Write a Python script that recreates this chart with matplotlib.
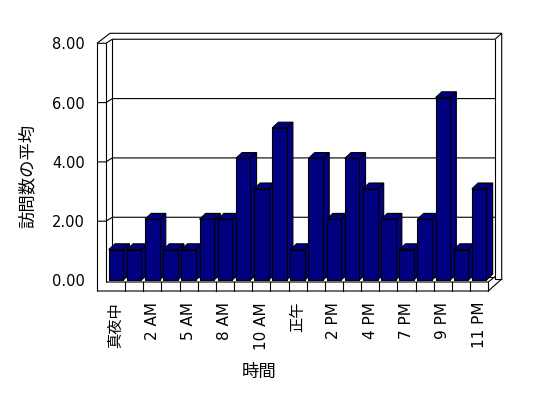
import matplotlib
matplotlib.use('Agg')
import matplotlib.pyplot as plt
from matplotlib.patches import Polygon

# ---- data ----
hours = ['真夜中', '1 AM', '2 AM', '4 AM', '5 AM', '7 AM', '8 AM', '9 AM', '10 AM', '11 AM',
         '正午', '1 PM', '2 PM', '3 PM', '4 PM', '6 PM', '7 PM', '8 PM', '9 PM', '10 PM', '11 PM']
visits = [1, 1, 2, 1, 1, 2, 2, 4, 3, 5, 1, 4, 2, 4, 3, 2, 1, 2, 6, 1, 3]
y_ticks = [0, 2, 4, 6, 8]
y_tick_labels = ['0.00', '2.00', '4.00', '6.00', '8.00']
x_title = '時間'
y_title = '訪問数の平均'

plt.rcParams['font.family'] = ['DejaVu Sans', 'Noto Sans CJK JP']

W, H = 548, 398
fig = plt.figure(figsize=(W / 100, H / 100), dpi=100)
fig.patch.set_facecolor('white')

# layout (pixels)
AX_L, AX_R, AX_T, AX_B = 97, 502, 30, 291
CAT0_PX, CAT_PX = 116, 18.16
ZERO_PX, UNIT_PX = 280, 30.4

ax = fig.add_axes([AX_L / W, 1 - AX_B / H, (AX_R - AX_L) / W, (AX_B - AX_T) / H])


def X(px):
    return (px - CAT0_PX) / CAT_PX


def Y(py):
    return (ZERO_PX - py) / UNIT_PX


ax.set_xlim(X(AX_L), X(AX_R))
ax.set_ylim(Y(AX_B), Y(AX_T))
for s in ax.spines.values():
    s.set_visible(False)
ax.set_facecolor('none')

NAVY = '#000080'
LW = 0.8


# projection of value-axis values onto front (left wall edge) and back wall
def v_front(t):
    return Y(280.5 - 29.65 * t)


def v_back(t):
    return Y(276.6 - 29.67 * t)


def line(pts, z=1):
    xs = [X(p[0]) for p in pts]
    ys = [Y(p[1]) for p in pts]
    ax.plot(xs, ys, color='black', lw=LW, zorder=z, clip_on=False, solid_capstyle='butt')


# walls
FL, FI, BL = 97, 106, 112.3      # left wall front, inner, back-wall left
BR_IN, BR_OUT = 495, 501.7        # back wall right edges
TOP_OUT = 33.3
FLOOR_TOP, FLOOR_BOT, FLOOR_R = 282, 291, 488.3
back0 = 276.6

line([(FL, FLOOR_BOT), (FL, 43.3)])
line([(FI, FLOOR_TOP), (FI, 43.3)])
line([(FL, 43.3), (110, TOP_OUT), (BR_OUT, TOP_OUT), (BR_OUT, 279)])
line([(BL, back0), (BL, 39.3)])
line([(BR_IN, 39.3), (BR_OUT, TOP_OUT)])
line([(BR_IN, 39.3), (BR_IN, 279), (BR_OUT, 279)])
line([(BL, back0), (BR_IN, back0)])

# gridlines: front tick on left wall + diagonal + back wall line
for t in y_ticks[1:]:
    yf = ZERO_PX - v_front(t) * UNIT_PX
    yb = ZERO_PX - v_back(t) * UNIT_PX
    line([(FL, yf), (FI, yf), (BL, yb), (BR_IN, yb)])

# floor front face
line([(FL, FLOOR_BOT), (FLOOR_R, FLOOR_BOT), (BR_OUT, 279)], z=10)
line([(FI, FLOOR_TOP), (FLOOR_R, FLOOR_TOP), (BR_IN, back0)], z=10)
for i in range(len(visits)):
    xb = i + 0.5
    ax.plot([xb, xb], [Y(FLOOR_TOP), Y(FLOOR_BOT)], color='black', lw=LW, zorder=10, clip_on=False)

# bars
xs = list(range(len(visits)))
BW = 0.8
DX = 6.2 / CAT_PX
DY = 5.8 / UNIT_PX
bars = ax.bar(xs, visits, width=BW, color=NAVY, edgecolor='black', linewidth=LW)
for i, (b, v) in enumerate(zip(bars, visits)):
    z = 3 + i * 0.01
    b.set_zorder(z + 0.005)
    x0 = i - BW / 2
    x1 = i + BW / 2
    ax.add_patch(Polygon([(x1, 0), (x1, v), (x1 + DX, v + DY), (x1 + DX, DY)], closed=True,
                         fc=NAVY, ec='black', lw=LW, zorder=z))
    ax.add_patch(Polygon([(x0, v), (x1, v), (x1 + DX, v + DY), (x0 + DX, v + DY)], closed=True,
                         fc=NAVY, ec='black', lw=LW, zorder=z))

# ticks
ax.set_yticks([v_front(t) for t in y_ticks])
ax.set_yticklabels(y_tick_labels, fontsize=10.5)
ax.set_xticks(xs[::2])
ax.set_xticklabels(hours[::2], rotation=90, fontsize=11)
ax.tick_params(axis='y', length=0, pad=8.6)
ax.tick_params(axis='x', length=0, pad=7.9)

fig.text(259 / W, 1 - 372 / H, x_title, ha='center', va='center', fontsize=12.5)
fig.text(28 / W, 1 - 176 / H, y_title, ha='center', va='center', rotation=90, fontsize=12.5)

fig.savefig('out.png', dpi=100, facecolor='white')
